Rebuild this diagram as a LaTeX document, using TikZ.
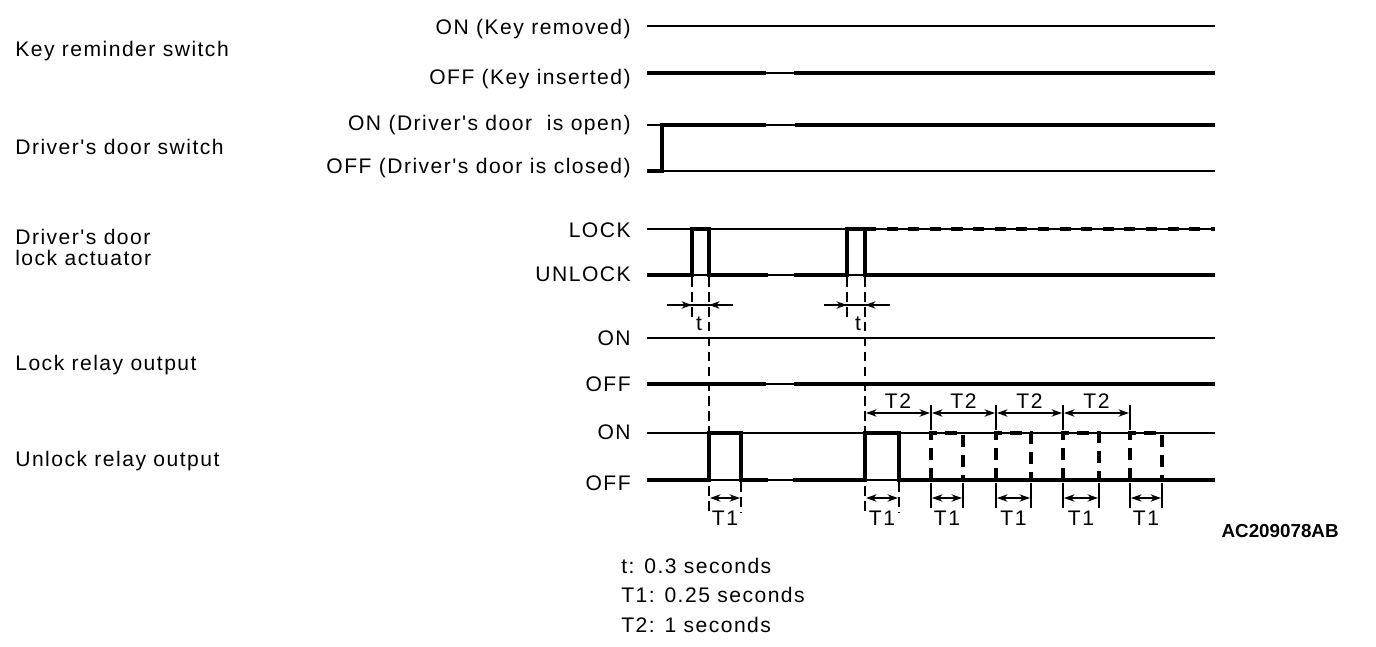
\documentclass[tikz,border=0pt]{standalone}
\usepackage{fontspec}
\newfontfamily\labfont{Liberation Sans}[LetterSpace=7]
\newfontfamily\codefont{Liberation Sans}
\usetikzlibrary{arrows.meta}
\tikzset{
  lab/.style={font=\labfont\fontsize{12}{14}\selectfont, inner sep=0pt},
  codelab/.style={font=\codefont\bfseries\fontsize{10.7}{12}\selectfont, inner sep=0pt},
  sigthin/.style={line width=1.1pt},
  sigthick/.style={line width=2.6pt},
  extline/.style={line width=0.9pt, dash pattern=on 5.5pt off 3pt},
  dpulse/.style={line width=2.6pt, dash pattern=on 7pt off 4.5pt},
  dlock/.style={line width=2.6pt, dash pattern=on 6.3pt off 6pt},
  dimline/.style={line width=0.9pt},
  tick/.style={line width=0.9pt},
  onetip/.style={-{Stealth[length=6pt,width=4.2pt]}},
  twotip/.style={{Stealth[length=6pt,width=4.2pt]}-{Stealth[length=6pt,width=4.2pt]}}
}
\begin{document}
\begin{tikzpicture}[x=0.02cm,y=-0.02cm]
\useasboundingbox (0,0) rectangle (1376,646);

% ---- left labels
\node[lab,anchor=base west] (l1) at (15,56) {Key reminder switch};
\node[lab,anchor=base west] (l2) at (15,154) {Driver's door switch};
\node[lab,anchor=base west] (l3) at (15,244) {Driver's door};
\node[lab,anchor=base west] (l3b) at (15,265) {lock actuator};
\node[lab,anchor=base west] (l4) at (15,370) {Lock relay output};
\node[lab,anchor=base west] (l5) at (15,466) {Unlock relay output};

% ---- right-aligned state labels
\node[lab,anchor=base east] (s1) at (631,34) {ON (Key removed)};
\node[lab,anchor=base east] (s2) at (631,84) {OFF (Key inserted)};
\node[lab,anchor=base east] (s3) at (631,130) {ON (Driver's door\ \ is open)};
\node[lab,anchor=base east] (s4) at (631,173) {OFF (Driver's door is closed)};
\node[lab,anchor=base east] (s5) at (631,237) {LOCK};
\node[lab,anchor=base east] (s6) at (631,281) {UNLOCK};
\node[lab,anchor=base east] (s7) at (631,345) {ON};
\node[lab,anchor=base east] (s8) at (631,391) {OFF};
\node[lab,anchor=base east] (s9) at (631,439) {ON};
\node[lab,anchor=base east] (s10) at (631,490) {OFF};

% ---- Key reminder switch
\draw[sigthin] (647,26) -- (1215,26);
\draw[sigthin] (647,73) -- (1215,73);
\draw[sigthick] (647,73) -- (766,73);
\draw[sigthick] (794,73) -- (1215,73);

% ---- Driver's door switch
\draw[sigthin] (647,125) -- (1215,125);
\draw[sigthin] (647,171) -- (1215,171);
\draw[sigthick] (647,171) -- (662,171) -- (662,125) -- (766,125);
\draw[sigthick] (795,125) -- (1215,125);

% ---- Driver's door lock actuator
\draw[sigthin] (647,229) -- (1215,229);
\draw[sigthin] (647,275) -- (1215,275);
\draw[sigthick] (647,275) -- (692,275) -- (692,229) -- (709,229) -- (709,275) -- (768,275);
\draw[sigthick] (794,275) -- (847,275) -- (847,229) -- (865,229) -- (865,275) -- (1215,275);
\draw[dlock] (865,229) -- (1215,229);

% ---- Lock relay output
\draw[sigthin] (647,338) -- (1215,338);
\draw[sigthin] (647,384) -- (1215,384);
\draw[sigthick] (647,384) -- (766,384);
\draw[sigthick] (794,384) -- (1215,384);

% ---- Unlock relay output
\draw[sigthin] (647,433) -- (1215,433);
\draw[sigthin] (647,480) -- (1215,480);
\draw[sigthick] (647,480) -- (709,480) -- (709,433) -- (741,433) -- (741,480) -- (768,480);
\draw[sigthick] (793,480) -- (865,480) -- (865,433) -- (899,433) -- (899,480) -- (1215,480);
\foreach \a/\b in {931/963, 996/1031, 1063/1099, 1130/1162}{
  \draw[dpulse] (\a,480) -- (\a,433) -- (\b,433) -- (\b,480);
  \draw[tick] (\a,483) -- (\a,508);
  \draw[tick] (\b,483) -- (\b,508);
}

% ---- extension lines
\draw[extline] (692,277) -- (692,318);
\draw[extline] (709,277) -- (709,512);
\draw[extline] (847,277) -- (847,318);
\draw[extline] (865,277) -- (865,512);
\draw[extline] (741,482) -- (741,512);
\draw[extline] (899,482) -- (899,512);
\foreach \x in {931,996,1063,1130}{
  \draw[tick] (\x,405) -- (\x,430);
}

% ---- t dimensions
\draw[dimline] (667,305) -- (733,305);
\draw[dimline,onetip] (672,305) -- (692,305);
\draw[dimline,onetip] (729,305) -- (709,305);
\node[lab,anchor=base] (t1) at (699,330) {t};
\draw[dimline] (824,305) -- (890,305);
\draw[dimline,onetip] (829,305) -- (847,305);
\draw[dimline,onetip] (886,305) -- (865,305);
\node[lab,anchor=base] (t2) at (858,330) {t};

% ---- T2 dimensions
\foreach \a/\b [count=\i] in {865/931, 931/996, 996/1063, 1063/1130}{
  \draw[dimline,twotip] (\a+1,413) -- (\b-1,413);
  \node[lab,anchor=base] (tt\i) at ({(\a+\b)/2},408) {T2};
}

% ---- T1 dimensions
\foreach \a/\b [count=\i] in {709/741, 865/899, 931/963, 996/1031, 1063/1099, 1130/1162}{
  \draw[dimline,twotip] (\a+1,498) -- (\b-1,498);
  \node[lab,anchor=base] (to\i) at ({(\a+\b)/2},525) {T1};
}

% ---- legend
\node[lab,anchor=base west] (g1) at (621,573) {t: 0.3 seconds};
\node[lab,anchor=base west] (g2) at (621,602) {T1: 0.25 seconds};
\node[lab,anchor=base west] (g3) at (621,632) {T2: 1 seconds};
\node[codelab,anchor=base east] (code) at (1339,537) {AC209078AB};
\end{tikzpicture}
\end{document}
